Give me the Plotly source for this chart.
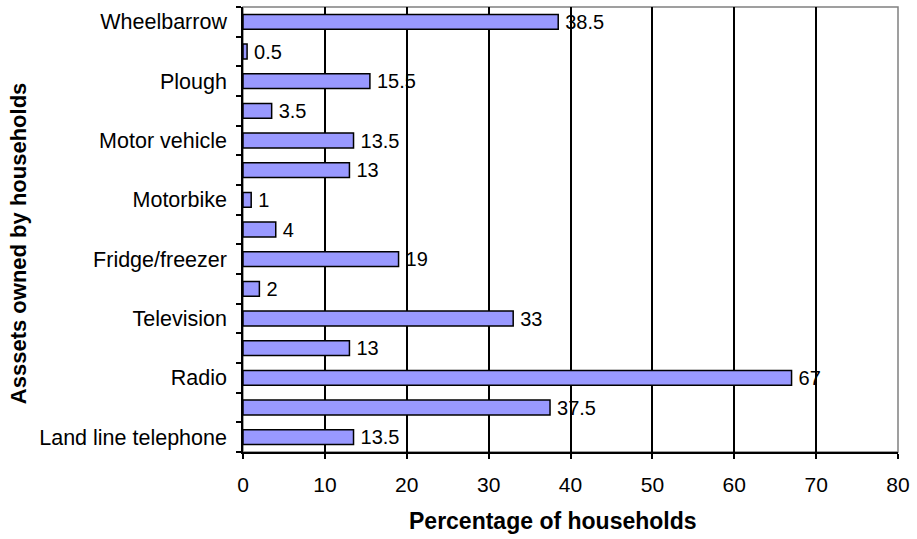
import plotly.graph_objects as go

# Categories from bottom to top (only every other category label is shown in the original)
tick_labels = ["Land line telephone", "", "Radio", "", "Television", "", "Fridge/freezer",
               "", "Motorbike", "", "Motor vehicle", "", "Plough", "", "Wheelbarrow"]
values = [13.5, 37.5, 67, 13, 33, 2, 19, 4, 1, 13, 13.5, 3.5, 15.5, 0.5, 38.5]
value_text = ["13.5", "37.5", "67", "13", "33", "2", "19", "4", "1", "13", "13.5", "3.5", "15.5", "0.5", "38.5"]
x_ticks = [0, 10, 20, 30, 40, 50, 60, 70, 80]
x_title = "Percentage of households"
y_title = "Asssets owned by households"

positions = list(range(len(values)))
FONT = "Arial, Liberation Sans, sans-serif"

fig = go.Figure()
fig.add_trace(go.Bar(
    x=values, y=positions, orientation="h",
    marker=dict(color="#9999FF", line=dict(color="black", width=1.5)),
    width=0.5,
    text=value_text, texttemplate="\u2009%{text}",
    textposition="outside", constraintext="none",
    textfont=dict(family=FONT, size=20, color="black"),
    cliponaxis=False,
))

fig.update_layout(
    width=917, height=539,
    margin=dict(l=243, r=14, t=7, b=87),
    paper_bgcolor="white", plot_bgcolor="white",
    showlegend=False,
    font=dict(family=FONT, size=20, color="black"),
    xaxis=dict(
        range=[0, 80], tickvals=x_ticks, ticktext=[str(v) for v in x_ticks],
        showgrid=True, gridcolor="black", gridwidth=1.5,
        ticks="outside", ticklen=5, tickcolor="black", tickwidth=1.5,
        showline=True, linecolor="black", linewidth=1.5,
        zeroline=False, mirror=False,
        ticklabelstandoff=8,
        tickfont=dict(size=21),
    ),
    yaxis=dict(
        range=[-0.5, len(values) - 0.5],
        tickmode="array", tickvals=positions, ticktext=tick_labels,
        ticks="", showgrid=False, zeroline=False,
        showline=True, linecolor="black", linewidth=1.5,
        minor=dict(tickmode="array", tickvals=[p - 0.5 for p in positions] + [len(values) - 0.5],
                   ticks="outside", ticklen=5, tickcolor="black", tickwidth=1.5, showgrid=False),
        ticklabelstandoff=10,
        tickfont=dict(size=21.5),
    ),
    annotations=[
        dict(text="<b>" + x_title + "</b>", xref="paper", yref="paper",
             x=0.474, y=-0.155, xanchor="center", yanchor="middle",
             showarrow=False, font=dict(size=23)),
        dict(text="<b>" + y_title + "</b>", xref="paper", yref="paper",
             x=-0.3415, y=0.47, xanchor="center", yanchor="middle", textangle=-90,
             showarrow=False, font=dict(size=22)),
    ],
)

# gray plot-area border on top and right
fig.add_shape(type="rect", xref="paper", yref="paper", x0=0, y0=0, x1=1, y1=1,
              line=dict(color="#808080", width=1.5), layer="below")

fig.write_html("out.html")
